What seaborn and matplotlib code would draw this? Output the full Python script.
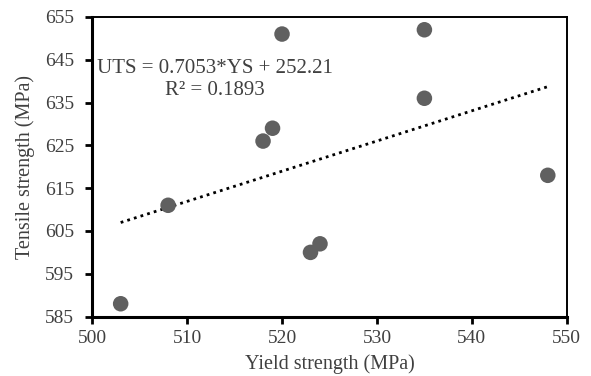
import numpy as np
import pandas as pd
import matplotlib
matplotlib.use("Agg")
import matplotlib.pyplot as plt
import seaborn as sns

# Data
yield_strength = [503, 508, 518, 519, 520, 523, 524, 535, 535, 548]
tensile_strength = [588, 611, 626, 629, 651, 600, 602, 652, 636, 618]

# Trend line coefficients as printed on the chart
slope = 0.7053
intercept = 252.21
r_squared = 0.1893

x_ticks = [500, 510, 520, 530, 540, 550]
y_ticks = [585, 595, 605, 615, 625, 635, 645, 655]

sns.set_style("white")
plt.rcParams['font.family'] = ['Liberation Serif', 'DejaVu Serif']

df = pd.DataFrame({'ys': yield_strength, 'uts': tensile_strength})

fig, ax = plt.subplots(figsize=(5.91, 3.76), dpi=100)
fig.subplots_adjust(left=0.156, right=0.959, top=0.955, bottom=0.158)

text_col = '#404040'

sns.scatterplot(data=df, x='ys', y='uts', ax=ax, s=125, color='#606060',
                edgecolor='none', zorder=3)

xl = np.array([min(yield_strength), max(yield_strength)])
ax.plot(xl, slope * xl + intercept, linestyle=(0, (1, 1.5)), color='black',
        linewidth=2.0, zorder=2)

ax.set_xlim(500, 550)
ax.set_ylim(585, 655)
ax.set_xticks(x_ticks)
ax.set_yticks(y_ticks)

for side in ['left', 'bottom', 'top', 'right']:
    ax.spines[side].set_visible(True)
    ax.spines[side].set_color('black')
ax.spines['left'].set_linewidth(2.2)
ax.spines['bottom'].set_linewidth(2.2)
ax.spines['top'].set_linewidth(1.4)
ax.spines['right'].set_linewidth(1.4)

ax.tick_params(axis='both', direction='out', length=5, width=2, color='black',
               labelsize=14, labelcolor=text_col, left=True, bottom=True)
ax.tick_params(axis='x', pad=5)
ax.tick_params(axis='y', pad=8)

ax.set_xlabel('Yield strength (MPa)', fontsize=14.5, color=text_col, labelpad=5)
ax.set_ylabel('Tensile strength (MPa)', fontsize=14.5, color=text_col, labelpad=7)

ax.text(0.259, 0.827, f'UTS = {slope}*YS + {intercept}', transform=ax.transAxes,
        ha='center', va='center', fontsize=15, color=text_col)
ax.text(0.259, 0.753, f'R² = {r_squared}', transform=ax.transAxes,
        ha='center', va='center', fontsize=15, color=text_col)

plt.savefig('out.png', dpi=100)
plt.close()
